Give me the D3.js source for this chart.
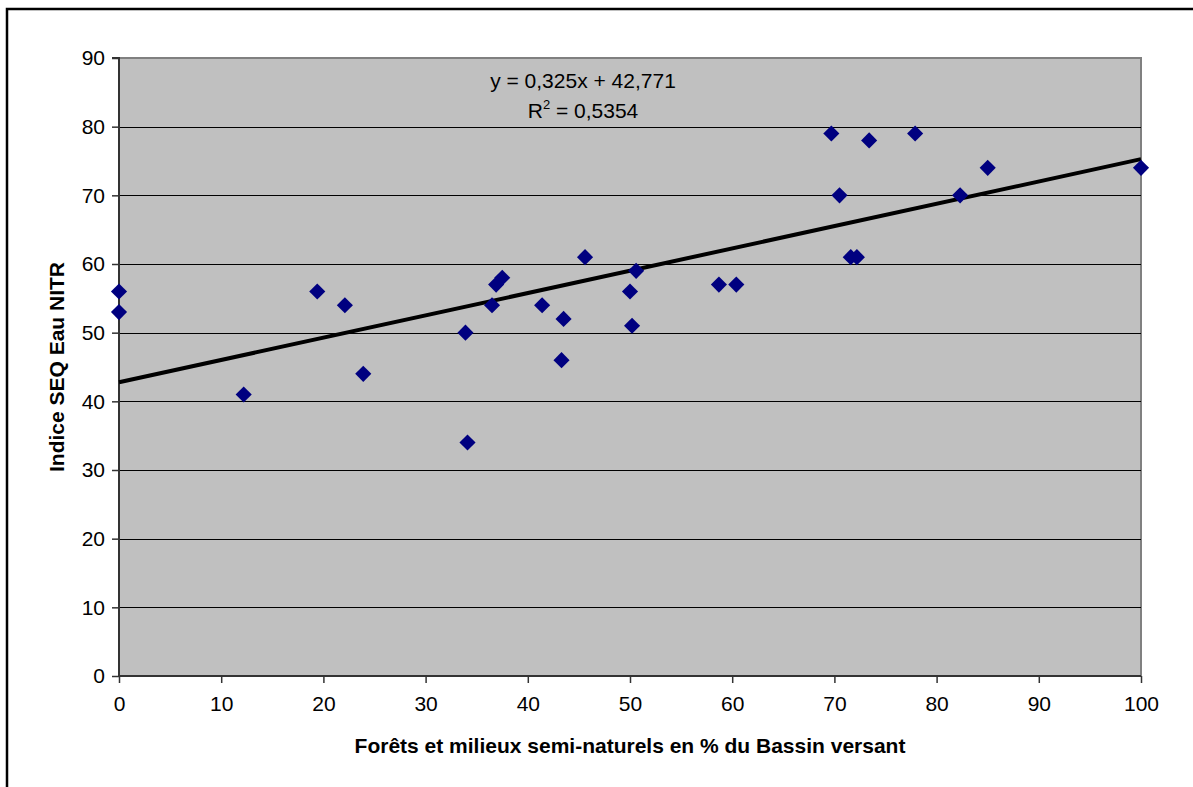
<!DOCTYPE html>
<html>
<head>
<meta charset="utf-8">
<script src="https://cdn.jsdelivr.net/npm/d3@7"></script>
<style>
  html, body { margin: 0; padding: 0; background: #fff; overflow: hidden; }
  svg { display: block; }
  text { font-family: "Liberation Sans", Arial, sans-serif; }
</style>
</head>
<body>
<svg id="chart" width="1193" height="787"></svg>
<script>
// ---- data ----
const forestPct = [0, 0, 12.2, 19.4, 22.1, 23.9, 33.9, 34.1, 36.5, 36.9, 37.5, 41.4, 43.5, 43.3, 45.6,
                   50.0, 50.2, 50.6, 58.7, 60.4, 69.7, 70.5, 71.6, 72.2, 73.4, 77.9, 82.3, 85.0, 100];
const seqIndex  = [56, 53, 41, 56, 54, 44, 50, 34, 54, 57, 58, 54, 52, 46, 61,
                   56, 51, 59, 57, 57, 79, 70, 61, 61, 78, 79, 70, 74, 74];
const xTicks = [0, 10, 20, 30, 40, 50, 60, 70, 80, 90, 100];
const yTicks = [0, 10, 20, 30, 40, 50, 60, 70, 80, 90];
const trendSlope = 0.325;
const trendIntercept = 42.771;
const equationLabel = "y = 0,325x + 42,771";
const r2Value = "0,5354";
const xTitle = "Forêts et milieux semi-naturels en % du Bassin versant";
const yTitle = "Indice SEQ Eau NITR";

// ---- layout ----
const svg = d3.select("#chart");
const plot = { left: 119, right: 1141, top: 58, bottom: 676 };
const FS = "21px";

// outer border (chart area is cropped at right and bottom)
svg.append("rect").attr("x", 7).attr("y", 9).attr("width", 1400).attr("height", 1000)
  .attr("fill", "#fff").attr("stroke", "#000").attr("stroke-width", 2.5);

const x = d3.scaleLinear().domain([0, 100]).range([plot.left, plot.right]);
const y = d3.scaleLinear().domain([0, 90]).range([plot.bottom, plot.top]);

// plot background
svg.append("rect").attr("x", plot.left).attr("y", plot.top)
  .attr("width", plot.right - plot.left).attr("height", plot.bottom - plot.top)
  .attr("fill", "#C0C0C0").attr("stroke", "#808080").attr("stroke-width", 2);

// gridlines
svg.append("g").selectAll("line").data(yTicks.filter(t => t > 0 && t < 90)).join("line")
  .attr("x1", plot.left).attr("x2", plot.right)
  .attr("y1", d => Math.round(y(d)) + 0.5).attr("y2", d => Math.round(y(d)) + 0.5)
  .attr("stroke", "#000").attr("stroke-width", 1);

// axes
const yAxis = d3.axisLeft(y).tickValues(yTicks).tickSize(7).tickPadding(7).tickFormat(d3.format("d"));
const xAxis = d3.axisBottom(x).tickValues(xTicks).tickSize(7).tickPadding(13).tickFormat(d3.format("d"));

const gy = svg.append("g").attr("transform", `translate(${plot.left},0)`).call(yAxis);
const gx = svg.append("g").attr("transform", `translate(0,${plot.bottom})`).call(xAxis);
[gx, gy].forEach(g => {
  g.select(".domain").attr("stroke", "#333").attr("stroke-width", 2);
  g.selectAll(".tick line").attr("stroke", "#333").attr("stroke-width", 1.5);
  g.selectAll(".tick text").attr("fill", "#000")
    .style("font-family", '"Liberation Sans", Arial, sans-serif').style("font-size", FS);
});
gy.select(".domain").attr("d", `M-7,${plot.top}H0V${plot.bottom}H0`);
gx.select(".domain").attr("d", `M${plot.left},0H${plot.right}`);

// trendline
svg.append("line")
  .attr("x1", x(0)).attr("y1", y(trendIntercept))
  .attr("x2", x(100)).attr("y2", y(trendSlope * 100 + trendIntercept))
  .attr("stroke", "#000").attr("stroke-width", 4);

// points (diamonds)
const pts = forestPct.map((v, i) => ({ x: v, y: seqIndex[i] }));
const diamond = d3.symbol().type(d3.symbolSquare).size(130);
svg.append("g").selectAll("path").data(pts).join("path")
  .attr("d", diamond)
  .attr("transform", d => `translate(${x(d.x)},${y(d.y)}) rotate(45)`)
  .attr("fill", "#000080");

// equation labels
const eqX = 583;
svg.append("text").attr("x", eqX).attr("y", 88).attr("text-anchor", "middle")
  .style("font-size", FS).text(equationLabel);
const r2 = svg.append("text").attr("x", eqX).attr("y", 118).attr("text-anchor", "middle")
  .style("font-size", FS);
r2.append("tspan").text("R");
r2.append("tspan").attr("dy", -9).style("font-size", "13px").text("2");
r2.append("tspan").attr("dy", 9).text(" = " + r2Value);

// axis titles
svg.append("text").attr("x", (plot.left + plot.right) / 2).attr("y", 753)
  .attr("text-anchor", "middle").style("font-size", FS).style("font-weight", "bold").text(xTitle);
svg.append("text").attr("transform", `translate(64,${(plot.top + plot.bottom) / 2}) rotate(-90)`)
  .attr("text-anchor", "middle").style("font-size", FS).style("font-weight", "bold").text(yTitle);
</script>
</body>
</html>
